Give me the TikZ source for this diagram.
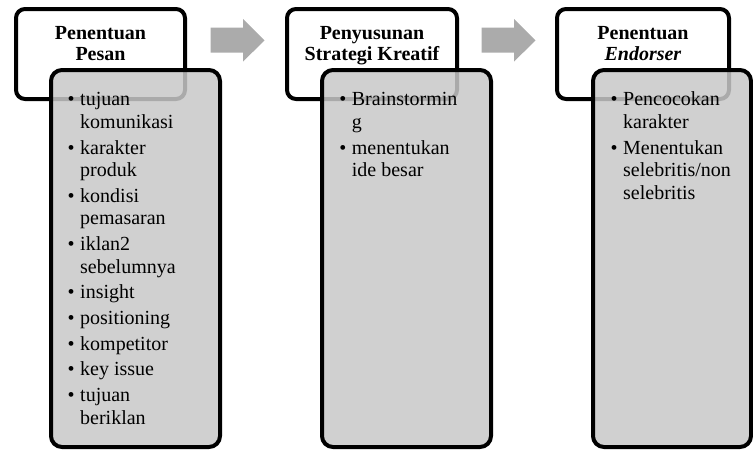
\documentclass[tikz,border=0pt]{standalone}
\usepackage{fontspec}
\setmainfont{Liberation Serif}
\definecolor{boxgray}{HTML}{C8C8C8}
\definecolor{arrowgray}{HTML}{ABABAB}
\begin{document}
\begin{tikzpicture}[x=1pt,y=-1pt,
  topbox/.style={draw=black, line width=4pt, rounded corners=9pt, fill=white, inner sep=0pt, outer sep=0pt},
  listbox/.style={draw=black, line width=4pt, rounded corners=11pt, fill=boxgray, fill opacity=0.85, inner sep=0pt, outer sep=0pt},
  head/.style={font=\fontsize{20}{21}\selectfont\bfseries, align=center, inner sep=0pt, anchor=base},
  listtext/.style={font=\fontsize{20}{22.5}\selectfont, anchor=north west, inner sep=0pt},
  flow/.style={fill=arrowgray, draw=none}]
\path[use as bounding box] (0,0) rectangle (753,450);

% column 1
\node[topbox, minimum width=169pt, minimum height=90pt] (t1) at (100.5,54) {};
\node[listbox, minimum width=169pt, minimum height=377pt] (g1) at (135.5,258.5) {};
\node[head] (h1) at (100.5,60.3) {Penentuan\\Pesan};
\node[listtext] (l1) at (67.5,89.95) {\begin{tabular}{@{}l@{\hspace{5.5pt}}l@{}}
\textbullet & tujuan\\ & komunikasi\\[3.2pt]
\textbullet & karakter\\ & produk\\[3.2pt]
\textbullet & kondisi\\ & pemasaran\\[3.2pt]
\textbullet & iklan2\\ & sebelumnya\\[3.2pt]
\textbullet & insight\\[3.2pt]
\textbullet & positioning\\[3.2pt]
\textbullet & kompetitor\\[3.2pt]
\textbullet & key issue\\[3.2pt]
\textbullet & tujuan\\ & beriklan
\end{tabular}};

% column 2
\node[topbox, minimum width=170pt, minimum height=90pt] (t2) at (372,54) {};
\node[listbox, minimum width=169pt, minimum height=377pt] (g2) at (406.5,258.5) {};
\node[head] (h2) at (372,60.3) {Penyusunan\\Strategi Kreatif};
\node[listtext] (l2) at (339.2,89.95) {\begin{tabular}{@{}l@{\hspace{5.5pt}}l@{}}
\textbullet & Brainstormin\\ & g\\[3.2pt]
\textbullet & menentukan\\ & ide besar
\end{tabular}};

% column 3
\node[topbox, minimum width=172pt, minimum height=90pt] (t3) at (643,54) {};
\node[listbox, minimum width=158pt, minimum height=377pt] (g3) at (672,258.5) {};
\node[head] (h3) at (643,60.3) {Penentuan\\\textit{Endorser}};
\node[listtext] (l3) at (610.5,89.95) {\begin{tabular}{@{}l@{\hspace{5.5pt}}l@{}}
\textbullet & Pencocokan\\ & karakter\\[3.2pt]
\textbullet & Menentukan\\ & selebritis/non\\ & selebritis
\end{tabular}};

% arrows
\fill[flow] (210.7,27.7) -- (243,27.7) -- (243,19) -- (264.5,40.3) -- (243,61.7) -- (243,52.7) -- (210.7,52.7) -- cycle;
\fill[flow] (481.7,27.7) -- (514,27.7) -- (514,19) -- (535.5,40.3) -- (514,61.7) -- (514,52.7) -- (481.7,52.7) -- cycle;
\end{tikzpicture}
\end{document}
